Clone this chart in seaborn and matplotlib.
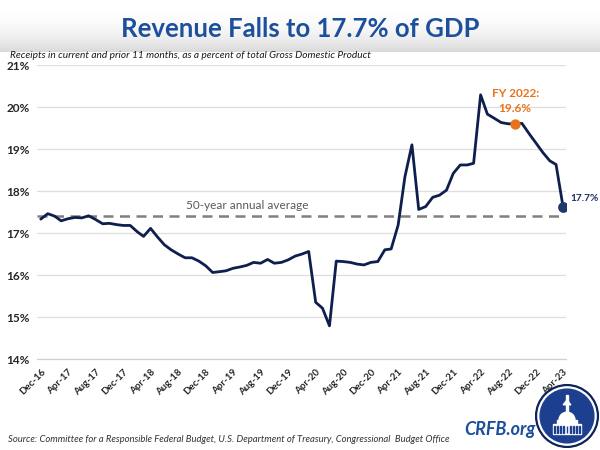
import numpy as np
import pandas as pd
import matplotlib
matplotlib.use("Agg")
import matplotlib.pyplot as plt
import seaborn as sns
from matplotlib.patches import Circle, Ellipse, Rectangle, Polygon

# ---------------- data ----------------
months = pd.date_range("2016-12-01", "2023-04-01", freq="MS")
revenue_pct = [
    17.33,
    17.46, 17.40, 17.29, 17.34, 17.37, 17.36, 17.41, 17.32, 17.22, 17.23, 17.20, 17.18,
    17.18, 17.03, 16.92, 17.11, 16.91, 16.72, 16.60, 16.50, 16.41, 16.41, 16.33, 16.22,
    16.06, 16.08, 16.10, 16.16, 16.19, 16.23, 16.30, 16.28, 16.37, 16.28, 16.30, 16.36,
    16.45, 16.50, 16.56, 15.35, 15.21, 14.79, 16.33, 16.32, 16.30, 16.26, 16.24, 16.30,
    16.32, 16.60, 16.62, 17.19, 18.34, 19.10, 17.56, 17.63, 17.85, 17.90, 18.02, 18.42,
    18.62, 18.62, 18.66, 20.29, 19.83, 19.73, 19.63, 19.60, 19.60, 19.61, 19.37, 19.15,
    18.92, 18.72, 18.63, 17.62,
]
avg_50yr = 17.4
avg_label = "50-year annual average"
fy2022_month = pd.Timestamp("2022-09-01")
fy2022_value = 19.6
fy2022_label = "FY 2022:\n19.6%"
latest_label = "17.7%"
tick_months = pd.date_range("2016-12-01", "2023-04-01", freq="4MS")
tick_labels = ["Dec-16", "Apr-17", "Aug-17", "Dec-17", "Apr-18", "Aug-18", "Dec-18",
               "Apr-19", "Aug-19", "Dec-19", "Apr-20", "Aug-20", "Dec-20", "Apr-21",
               "Aug-21", "Dec-21", "Apr-22", "Aug-22", "Dec-22", "Apr-23"]
y_ticks = [14, 15, 16, 17, 18, 19, 20, 21]
y_tick_labels = ["14%", "15%", "16%", "17%", "18%", "19%", "20%", "21%"]

title = "Revenue Falls to 17.7% of GDP"
subtitle = "Receipts in current and prior 11 months, as a percent of total Gross Domestic Product"
source = ("Source: Committee for a Responsible Federal Budget, U.S. Department of Treasury, "
          "Congressional  Budget Office")

df = pd.DataFrame({"month": months, "pct": revenue_pct})

# ---------------- style ----------------
sns.set_theme(style="white")
plt.rcParams["font.family"] = ["Lato", "DejaVu Sans"]

NAVY = "#0f1f4d"
BLUE = "#1c4f9c"
ORANGE = "#e8731c"

fig = plt.figure(figsize=(6, 4.5), dpi=100)
fig.patch.set_facecolor("white")

# header gradient band
hax = fig.add_axes([0, 1 - 52 / 450, 1, 52 / 450])
t = np.linspace(0, 1, 200) ** 2.5
grad = 1 - 0.15 * t
hax.imshow(np.tile(grad[:, None], (1, 10)), aspect="auto", cmap="gray",
           vmin=0, vmax=1, extent=[0, 1, 0, 1], origin="upper")
hax.set_axis_off()

# main axes
ax = fig.add_axes([36.7 / 600, 1 - 359 / 450, (566 - 36.7) / 600, (359 - 65) / 450])
sns.lineplot(data=df, x="month", y="pct", color=NAVY, linewidth=2.0, ax=ax, zorder=3)

xmin = months[0] - pd.Timedelta(days=18)
xmax = months[-1] + pd.Timedelta(days=13)
ax.set_xlim(xmin, xmax)
ax.set_ylim(14, 21)

ax.hlines(avg_50yr, xmin, months[-1] - pd.Timedelta(days=12), colors="#808080",
          linestyles=(0, (4, 2.6)), linewidth=1.8, zorder=2)
ax.annotate(avg_label, xy=(months[30], avg_50yr), xytext=(0, 7.5),
            textcoords="offset points", ha="center", va="center",
            fontsize=8.5, color="#595959")

ax.scatter([fy2022_month], [fy2022_value], s=55, color=ORANGE, zorder=5, linewidths=0)
ax.annotate(fy2022_label, xy=(fy2022_month, fy2022_value), xytext=(0, 7),
            textcoords="offset points", ha="center", va="bottom", fontsize=8.5,
            fontweight="bold", color=ORANGE, linespacing=1.45)

ax.scatter([months[-1]], [revenue_pct[-1]], s=60, color="#1b3a6b", zorder=5, linewidths=0)
ax.annotate(latest_label, xy=(months[-1], revenue_pct[-1]), xytext=(5, 6),
            textcoords="offset points", ha="left", va="center", fontsize=7.3,
            fontweight="bold", color="#1b2f5a", annotation_clip=False)

ax.set_yticks(y_ticks)
ax.set_yticklabels(y_tick_labels, fontsize=8.5, fontweight="bold", color="#262626")
ax.set_xticks(tick_months)
ax.set_xticklabels(tick_labels, rotation=45, ha="right", rotation_mode="anchor",
                   fontsize=7, fontweight="bold", color="#262626")
ax.tick_params(axis="y", length=0, pad=5)
ax.tick_params(axis="x", length=4, width=0.8, color="#cfcfcf", pad=2, direction="out")
ax.set_xlabel("")
ax.set_ylabel("")
ax.yaxis.grid(True, color="#dedede", linewidth=0.9)
ax.xaxis.grid(False)
for s in ["top", "right", "left"]:
    ax.spines[s].set_visible(False)
ax.spines["bottom"].set_color("#d0d0d0")
ax.spines["bottom"].set_linewidth(0.9)

# texts
fig.text(0.5, 1 - 29 / 450, title, ha="center", va="center", fontsize=18.5,
         fontweight="bold", color=BLUE)
fig.text(10 / 600, 1 - 56 / 450, subtitle, ha="left", va="center", fontsize=7.3,
         style="italic", color="#1a1a1a")
fig.text(8 / 600, 1 - 440 / 450, source, ha="left", va="center", fontsize=6.8,
         style="italic", color="#333333")
fig.text(500 / 600, 1 - 429 / 450, "CRFB.org", ha="center", va="center", fontsize=13,
         fontweight="bold", style="italic", color=BLUE)

# logo (drawn in a small inset at the bottom-right corner)
lax = fig.add_axes([535 / 600, 2 / 450, 64 / 600, 64 / 450])
lax.set_xlim(-1, 1)
lax.set_ylim(-1, 1)
lax.set_aspect("equal")
lax.set_axis_off()
lax.add_patch(Circle((0, 0), 0.98, color="#0d2456"))
lax.add_patch(Circle((0, 0), 0.91, color="white"))
lax.add_patch(Circle((0, 0), 0.84, color="#1d3f8f"))
lax.add_patch(Rectangle((-0.45, -0.55), 0.9, 0.3, color="white"))
lax.add_patch(Rectangle((-0.32, -0.25), 0.64, 0.12, color="white"))
lax.add_patch(Ellipse((0, -0.13), 0.5, 0.5, color="white"))
lax.add_patch(Rectangle((-0.04, 0.1), 0.08, 0.55, color="white"))
lax.add_patch(Polygon([(-0.12, 0.35), (0.12, 0.35), (0.0, 0.5)], color="white"))
for xx in np.linspace(-0.4, 0.4, 9):
    lax.add_patch(Rectangle((xx - 0.015, -0.52), 0.03, 0.22, color="#1d3f8f"))

fig.savefig("out.png", dpi=100)
